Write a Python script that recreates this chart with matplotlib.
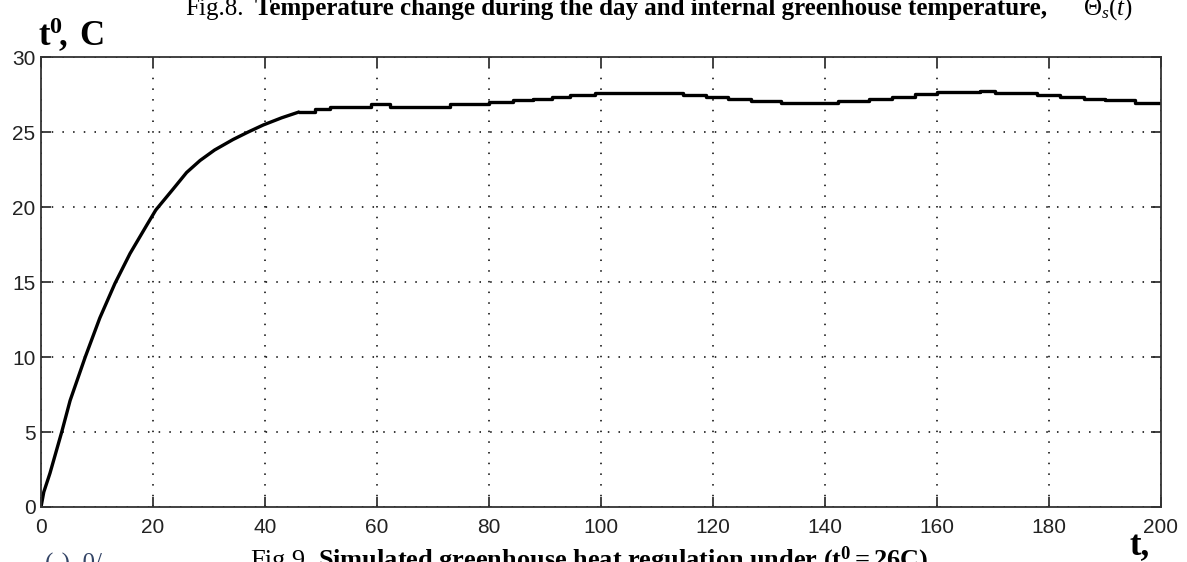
import matplotlib
matplotlib.use("Agg")
import matplotlib.pyplot as plt

plt.rcParams["mathtext.fontset"] = "custom"
plt.rcParams["mathtext.rm"] = "Liberation Serif"
plt.rcParams["mathtext.bf"] = "Liberation Serif:bold"
plt.rcParams["mathtext.it"] = "Liberation Serif:italic"

# Rising part of the response (smooth)
rise_t = [0, 0.5, 1.6, 3.7, 5.2, 7.9, 10.5, 13.2, 15.9, 18.9, 20.5, 23.6, 26.0, 28.4, 31.0, 34.3, 37.0, 39.7, 43.0, 46.2]
rise_y = [0, 1.0, 2.25, 5.0, 7.1, 10.0, 12.6, 14.9, 16.9, 18.8, 19.8, 21.2, 22.3, 23.1, 23.8, 24.5, 25.0, 25.47, 25.95, 26.35]

# Plateau (quantised, drawn as steps)
step_t = [46.2, 48.9, 51.6, 59.0, 62.3, 73.0, 80.0, 84.3, 87.9, 91.3, 94.4, 98.9,
          114.6, 118.8, 122.7, 126.8, 132.2, 142.3, 147.9, 151.9, 156.0, 160.0,
          167.7, 170.4, 177.8, 182.0, 186.2, 190.0, 195.4, 200.0]
step_y = [26.35, 26.53, 26.69, 26.88, 26.69, 26.86, 27.0, 27.12, 27.22, 27.36, 27.49, 27.62,
          27.49, 27.31, 27.18, 27.07, 26.95, 27.09, 27.22, 27.35, 27.51, 27.64,
          27.76, 27.62, 27.49, 27.36, 27.22, 27.11, 26.95, 26.95]

x_ticks = [0, 20, 40, 60, 80, 100, 120, 140, 160, 180, 200]
y_ticks = [0, 5, 10, 15, 20, 25, 30]

fig = plt.figure(figsize=(11.87, 5.62), dpi=100)
ax = fig.add_axes([41/1187, 1 - 507/562, (1161-41)/1187, (507-57)/562])

ax.plot(rise_t, rise_y, color="black", lw=2.4, solid_capstyle="butt")
ax.plot(step_t, step_y, color="black", lw=2.4, drawstyle="steps-post")

ax.set_xlim(0, 200)
ax.set_ylim(0, 30)
ax.set_xticks(x_ticks)
ax.set_yticks(y_ticks)
ax.set_xticklabels([str(v) for v in x_ticks])
ax.set_yticklabels([str(v) for v in y_ticks])

ax.grid(True, color="black", linestyle=(0, (1, 6)), linewidth=1.1)
ax.tick_params(direction="in", length=7, width=1.2, top=True, right=True,
               labelsize=15, colors="#222222")
ax.tick_params(axis="x", pad=8)
ax.tick_params(axis="y", pad=4)
for lab in ax.get_xticklabels() + ax.get_yticklabels():
    lab.set_family(["Liberation Sans Narrow", "Liberation Sans", "DejaVu Sans"])
for s in ax.spines.values():
    s.set_linewidth(1.3)
    s.set_color("#333333")

serif = ["Liberation Serif", "DejaVu Serif"]
# clipped caption of the previous figure (top)
ty = 1 - 15/562
fig.text(185/1187, ty, "Fig.8.", fontsize=18, family=serif, va="baseline", ha="left")
fig.text(255/1187, ty, "Temperature change during the day and internal greenhouse temperature,",
         fontsize=18, fontweight="bold", family=serif, va="baseline", ha="left")
fig.text(1083/1187, ty, r"$\Theta_s(t)$", fontsize=18, va="baseline", ha="left")
# y label
fig.text(38/1187, 1 - 46/562, r"$\mathbf{t^{0}\!,\;C}$", fontsize=25,
         va="baseline", ha="left")
# x label
fig.text(1130/1187, 1 - 555/562, "t,", fontsize=25, fontweight="bold",
         family=serif, va="baseline", ha="left")
# clipped caption below
by = 1 - 567/562
fig.text(250/1187, by, "Fig.9.", fontsize=19, family=serif, va="baseline", ha="left")
fig.text(318/1187, by, r"$\mathbf{Simulated\ greenhouse\ heat\ regulation\ under\ (t^{0} = 26C)}$",
         fontsize=19, va="baseline", ha="left")
fig.text(45/1187, 1 - 571/562, "(-)  0/", fontsize=18, family=serif,
         va="baseline", ha="left", color="#334466")

fig.savefig("out.png", dpi=100)
